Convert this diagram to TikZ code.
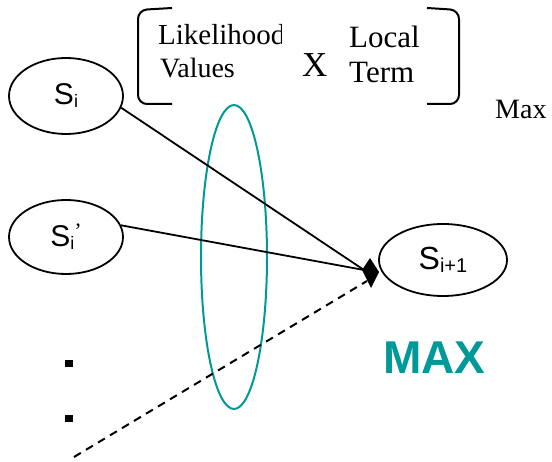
\documentclass[tikz,border=0pt]{standalone}
\usepackage{fontspec}
\setmainfont{Liberation Serif}
\newfontfamily\arialfont{Liberation Sans}
\usetikzlibrary{shapes.geometric}
\definecolor{tealline}{RGB}{0,153,153}
\tikzset{
  state/.style={draw, ellipse, line width=1.8pt, inner sep=0pt,
    minimum width=114pt, minimum height=76pt},
  conn/.style={line width=1.8pt},
  bracket/.style={line width=2pt, rounded corners=9pt},
  serif/.style={inner sep=0pt, anchor=base west, font=\fontsize{28}{28}\selectfont},
  bigserif/.style={serif, font=\fontsize{31}{31}\selectfont},
}
\newcommand{\stlabel}[3]{{\arialfont\fontsize{#1}{#1}\selectfont S\raisebox{-3pt}{\fontsize{#2}{#2}\selectfont #3}}}
\begin{document}
\begin{tikzpicture}[x=1pt,y=-1pt]
\useasboundingbox (0,0) rectangle (552,462);

% bracketed product term
\draw[bracket] (172,8) -- (138,10) -- (138,104) -- (172,104);
\draw[bracket] (427,8) -- (459,10) -- (459,104) -- (427,104);
\begin{scope}
  \clip (150,0) rectangle (281,60);
  \node[serif, font=\fontsize{29}{29}\selectfont] (lik) at (158,45) {Likelihood};
\end{scope}
\node[serif] (val) at (160,78) {Values};
\node[inner sep=0pt, anchor=base west, font=\fontsize{35}{35}\selectfont] (times) at (302,77) {X};
\node[bigserif] (loc) at (349,48) {Local};
\node[bigserif] (term) at (349,83) {Term};
\node[serif] (max) at (495,119) {Max};

% states
\node[state] (si) at (66,96) {\stlabel{30}{18}{i}};
\node[state, minimum height=74pt] (sip) at (66,237) {\stlabel{30}{18}{i}\raisebox{8pt}{\fontsize{22}{22}\selectfont ’}};
\node[state, minimum width=128pt, minimum height=72pt] (snext) at (443,260) {\stlabel{32}{20}{i+1}};

% teal selection ellipse
\node[draw=tealline, line width=2pt, ellipse, inner sep=0pt,
  minimum width=66pt, minimum height=304pt] (sel) at (234,257) {};

% arrival point and diamond head
\coordinate (tip) at (364,270);
\coordinate (tipd) at (367,281);
\coordinate (far) at (74,457);
\fill (362,270) -- (370,258) -- (379,272) -- (371,288) -- cycle;

\draw[conn] (si.-12) -- (tip);
\draw[conn] (sip.12) -- (tip);
\draw[conn, line width=2pt, dash pattern=on 8pt off 6pt] (far) -- (tipd);

% ellipsis squares
\fill (65,360) rectangle (73,367);
\fill (65,415) rectangle (73,422);

% MAX label
\node[inner sep=0pt, anchor=base west, text=tealline,
  font=\arialfont\bfseries\fontsize{46}{46}\selectfont] (maxlbl) at (383,374) {MAX};
\end{tikzpicture}
\end{document}
